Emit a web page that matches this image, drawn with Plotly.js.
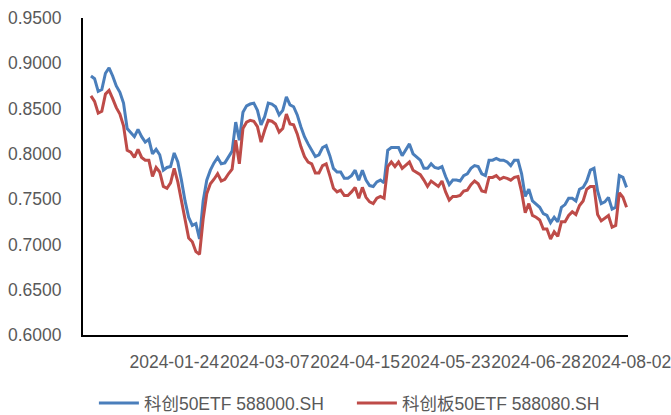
<!DOCTYPE html>
<html><head><meta charset="utf-8">
<script src="https://cdn.plot.ly/plotly-3.0.1.min.js"></script>
<style>html,body{margin:0;padding:0;background:#fff}#chart{width:671px;height:415px}</style>
</head><body><div id="chart"></div>
<script>
const dates = [
"2023-12-21","2023-12-22","2023-12-25","2023-12-26","2023-12-27","2023-12-28","2023-12-29",
"2024-01-02","2024-01-03","2024-01-04","2024-01-05","2024-01-08","2024-01-09","2024-01-10","2024-01-11","2024-01-12",
"2024-01-15","2024-01-16","2024-01-17","2024-01-18","2024-01-19","2024-01-22","2024-01-23","2024-01-24","2024-01-25","2024-01-26",
"2024-01-29","2024-01-30","2024-01-31",
"2024-02-01","2024-02-02","2024-02-05","2024-02-06","2024-02-07","2024-02-08","2024-02-19","2024-02-20","2024-02-21","2024-02-22","2024-02-23",
"2024-02-26","2024-02-27","2024-02-28","2024-02-29",
"2024-03-01","2024-03-04","2024-03-05","2024-03-06","2024-03-07","2024-03-08","2024-03-11","2024-03-12","2024-03-13","2024-03-14","2024-03-15",
"2024-03-18","2024-03-19","2024-03-20","2024-03-21","2024-03-22","2024-03-25","2024-03-26","2024-03-27","2024-03-28","2024-03-29",
"2024-04-01","2024-04-02","2024-04-03","2024-04-08","2024-04-09","2024-04-10","2024-04-11","2024-04-12","2024-04-15","2024-04-16","2024-04-17",
"2024-04-18","2024-04-19","2024-04-22","2024-04-23","2024-04-24","2024-04-25","2024-04-26","2024-04-29","2024-04-30",
"2024-05-06","2024-05-07","2024-05-08","2024-05-09","2024-05-10","2024-05-13","2024-05-14","2024-05-15","2024-05-16","2024-05-17",
"2024-05-20","2024-05-21","2024-05-22","2024-05-23","2024-05-24","2024-05-27","2024-05-28","2024-05-29","2024-05-30","2024-05-31",
"2024-06-03","2024-06-04","2024-06-05","2024-06-06","2024-06-07","2024-06-11","2024-06-12","2024-06-13","2024-06-14",
"2024-06-17","2024-06-18","2024-06-19","2024-06-20","2024-06-21","2024-06-24","2024-06-25","2024-06-26","2024-06-27","2024-06-28",
"2024-07-01","2024-07-02","2024-07-03","2024-07-04","2024-07-05","2024-07-08","2024-07-09","2024-07-10","2024-07-11","2024-07-12",
"2024-07-15","2024-07-16","2024-07-17","2024-07-18","2024-07-19","2024-07-22","2024-07-23","2024-07-24","2024-07-25","2024-07-26",
"2024-07-29","2024-07-30","2024-07-31","2024-08-01","2024-08-02"
];
const etf588000 = [
0.886,0.883,0.869,0.871,0.889,0.895,0.886,0.875,0.868,0.856,
0.828,0.824,0.819,0.827,0.819,0.813,0.816,0.800,0.805,0.799,
0.782,0.785,0.786,0.801,0.791,0.771,0.748,0.730,0.721,0.723,
0.706,0.748,0.771,0.782,0.790,0.796,0.789,0.790,0.796,0.803,
0.835,0.815,0.846,0.853,0.855,0.856,0.848,0.832,0.841,0.856,
0.855,0.852,0.843,0.848,0.863,0.854,0.852,0.843,0.830,0.819,
0.811,0.804,0.797,0.799,0.807,0.809,0.798,0.784,0.780,0.780,
0.773,0.773,0.776,0.782,0.771,0.782,0.771,0.765,0.764,0.769,
0.771,0.768,0.804,0.807,0.807,0.807,0.798,0.804,0.811,0.800,
0.797,0.793,0.784,0.784,0.789,0.785,0.784,0.786,0.775,0.766,
0.771,0.771,0.770,0.776,0.778,0.784,0.787,0.786,0.778,0.776,
0.793,0.793,0.795,0.793,0.793,0.791,0.787,0.793,0.793,0.778,
0.753,0.761,0.748,0.744,0.741,0.734,0.732,0.724,0.730,0.725,
0.741,0.744,0.751,0.751,0.748,0.761,0.763,0.770,0.782,0.784,
0.759,0.745,0.747,0.752,0.739,0.741,0.776,0.774,0.763
];
const etf588080 = [
0.864,0.858,0.845,0.847,0.866,0.870,0.861,0.851,0.844,0.831,
0.804,0.802,0.796,0.805,0.796,0.793,0.793,0.775,0.785,0.780,
0.764,0.762,0.768,0.784,0.769,0.749,0.726,0.707,0.703,0.692,
0.689,0.728,0.756,0.767,0.772,0.778,0.770,0.772,0.778,0.783,
0.815,0.789,0.828,0.835,0.837,0.836,0.830,0.813,0.826,0.837,
0.836,0.833,0.824,0.828,0.844,0.833,0.832,0.822,0.808,0.797,
0.791,0.789,0.779,0.779,0.787,0.789,0.776,0.762,0.758,0.760,
0.754,0.754,0.758,0.763,0.751,0.763,0.752,0.747,0.745,0.751,
0.753,0.751,0.786,0.791,0.786,0.791,0.784,0.787,0.791,0.782,
0.779,0.777,0.771,0.764,0.770,0.767,0.764,0.770,0.758,0.749,
0.753,0.753,0.754,0.759,0.760,0.766,0.770,0.767,0.759,0.758,
0.774,0.774,0.776,0.772,0.774,0.773,0.771,0.774,0.775,0.758,
0.735,0.745,0.732,0.730,0.727,0.717,0.717,0.706,0.714,0.709,
0.725,0.725,0.732,0.736,0.733,0.743,0.748,0.761,0.764,0.764,
0.733,0.726,0.729,0.732,0.719,0.721,0.757,0.752,0.741
];
const tickDates = ["2024-01-24","2024-03-07","2024-04-15","2024-05-23","2024-06-28","2024-08-02"];
const seriesNames = ["科创50ETF 588000.SH","科创板50ETF 588080.SH"];

const FONT = "Liberation Sans, Arial, Noto Sans CJK SC, sans-serif";
const traces = [
  {x: dates, y: etf588000, type: "scatter", mode: "lines", name: seriesNames[0],
   line: {color: "#4A7EBB", width: 3}},
  {x: dates, y: etf588080, type: "scatter", mode: "lines", name: seriesNames[1],
   line: {color: "#BE4B48", width: 3}}
];
const layout = {
  width: 671, height: 415,
  margin: {l: 83, r: 43, t: 18, b: 80, autoexpand: false},
  paper_bgcolor: "#fff", plot_bgcolor: "#fff",
  font: {family: FONT, size: 17.5, color: "#595959"},
  showlegend: true,
  legend: {orientation: "h", x: 0.02, xanchor: "left", y: -0.158, yanchor: "top",
           font: {family: FONT, size: 17.5, color: "#595959"}, itemwidth: 40,
           entrywidth: 203, entrywidthmode: "pixels", bgcolor: "rgba(0,0,0,0)"},
  xaxis: {type: "category", range: [-2.2, 148.4], tickmode: "array", tickvals: tickDates, ticktext: tickDates,
          tickangle: 0, showgrid: false, zeroline: false, showline: true, linecolor: "#000", linewidth: 2,
          ticks: "", ticklabelstandoff: 10, tickfont: {family: FONT, size: 17.5, color: "#595959"}},
  yaxis: {range: [0.6, 0.95], dtick: 0.05, tick0: 0.6, tickformat: ".4f", showgrid: false, zeroline: false,
          showline: true, linecolor: "#000", linewidth: 2, ticks: "", ticklabelstandoff: 16,
          tickfont: {family: FONT, size: 17.5, color: "#595959"}}
};
Plotly.newPlot("chart", traces, layout, {staticPlot: true, displayModeBar: false});
</script></body></html>
